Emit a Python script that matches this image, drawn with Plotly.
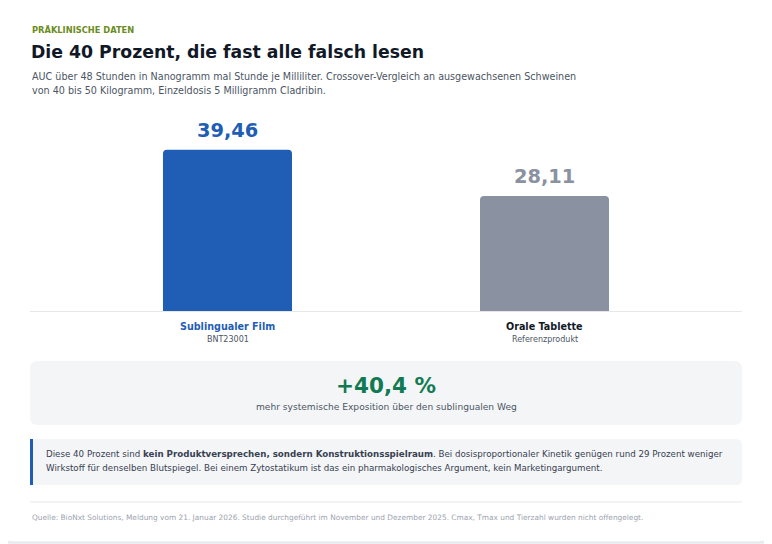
import plotly.graph_objects as go

# the page body keeps an 8px margin, so the figure is laid out in page pixels minus that offset
OFF = 8
W, H = 772 - OFF, 544 - OFF

categories = ["Sublingualer Film", "Orale Tablette"]
subtitles = ["BNT23001", "Referenzprodukt"]
auc_values = [39.46, 28.11]
bar_colors = ["#1f5eb4", "#8a91a0"]
label_colors = ["#1f5eb4", "#111827"]
delta_label = "+40,4 %"


def px(x):
    return (x - OFF) / W


def py(y):
    return 1 - (y - OFF) / H


def rounded_box(x0, y0, x1, y1, r, fill, line=None):
    # rounded rectangle in page pixels (top-left origin), drawn in paper space
    rx, ry = r / W, r / H
    a, b, c, d = px(x0), px(x1), py(y0), py(y1)
    path = (
        f"M {a + rx},{c} L {b - rx},{c} Q {b},{c} {b},{c - ry} "
        f"L {b},{d + ry} Q {b},{d} {b - rx},{d} "
        f"L {a + rx},{d} Q {a},{d} {a},{d + ry} "
        f"L {a},{c - ry} Q {a},{c} {a + rx},{c} Z"
    )
    return dict(
        type="path", xref="paper", yref="paper", path=path,
        fillcolor=fill, line=dict(color=line or fill, width=1 if line else 0),
        layer="below",
    )


def text_at(text, x, y, size, color, xanchor="left"):
    return dict(
        text=text, x=px(x), y=py(y), xanchor=xanchor, yanchor="middle",
        font=dict(size=size, color=color),
    )


fig = go.Figure()

fig.add_trace(
    go.Bar(
        x=categories,
        y=auc_values,
        width=0.407,
        marker=dict(color=bar_colors, cornerradius=4, line=dict(width=0)),
        hoverinfo="skip",
        showlegend=False,
    )
)

annotations = [
    text_at("<b>PRÄKLINISCHE DATEN</b>", 30, 30, 8.3, "#6b8c22"),
    text_at("<b>Die 40 Prozent, die fast alle falsch lesen</b>", 29, 52, 17.3, "#111827"),
    text_at("AUC über 48 Stunden in Nanogramm mal Stunde je Milliliter. "
            "Crossover-Vergleich an ausgewachsenen Schweinen", 30, 76, 9.6, "#4b5563"),
    text_at("von 40 bis 50 Kilogramm, Einzeldosis 5 Milligramm Cladribin.", 30, 91, 9.6, "#4b5563"),
]

# value labels and category labels
for cat, sub, val, bc, lc in zip(categories, subtitles, auc_values, bar_colors, label_colors):
    annotations.append(dict(
        text=f"<b>{val:.2f}</b>".replace(".", ","), x=cat, y=val, xref="x", yref="y",
        yanchor="bottom", yshift=6, showarrow=False, font=dict(size=19.4, color=bc),
    ))
    annotations.append(dict(
        text=f"<b>{cat}</b>", x=cat, y=py(326), xref="x", yref="paper",
        yanchor="middle", showarrow=False, font=dict(size=9.6, color=lc),
    ))
    annotations.append(dict(
        text=sub, x=cat, y=py(339), xref="x", yref="paper",
        yanchor="middle", showarrow=False, font=dict(size=8, color="#4b5563"),
    ))

# highlight box
annotations.append(text_at(f"<b>{delta_label}</b>", 386, 385, 21.5, "#127a52", "center"))
annotations.append(text_at("mehr systemische Exposition über den sublingualen Weg",
                           386, 407, 9.1, "#4b5563", "center"))

# note box
annotations.append(text_at(
    "Diese 40 Prozent sind <b>kein Produktversprechen, sondern Konstruktionsspielraum</b>. "
    "Bei dosisproportionaler Kinetik genügen rund 29 Prozent weniger",
    44, 454, 8.7, "#374151"))
annotations.append(text_at(
    "Wirkstoff für denselben Blutspiegel. Bei einem Zytostatikum ist das ein "
    "pharmakologisches Argument, kein Marketingargument.",
    44, 468, 8.7, "#374151"))

# source
annotations.append(text_at(
    "Quelle: BioNxt Solutions, Meldung vom 21. Januar 2026. Studie durchgeführt im November und "
    "Dezember 2025. Cmax, Tmax und Tierzahl wurden nicht offengelegt.",
    30, 517, 7.4, "#9ca3af"))

for a in annotations:
    a.setdefault("xref", "paper")
    a.setdefault("yref", "paper")
    a.setdefault("showarrow", False)

shapes = [
    rounded_box(1, 1, 770, 542, 12, "#ffffff", line="#e2e5e9"),
    rounded_box(30, 361, 742, 425, 8, "#f4f5f7"),
    rounded_box(30, 439, 742, 485, 6, "#f4f5f7"),
    dict(type="rect", xref="paper", yref="paper", x0=px(30), x1=px(33), y0=py(439), y1=py(485),
         fillcolor="#1f5eb4", line=dict(width=0), layer="below"),
    dict(type="line", xref="paper", yref="paper", x0=px(30), x1=px(742), y0=py(502), y1=py(502),
         line=dict(color="#e5e7eb", width=1), layer="below"),
]

fig.update_layout(
    width=W,
    height=H,
    margin=dict(l=0, r=0, t=0, b=0),
    paper_bgcolor="#eceef1",
    plot_bgcolor="rgba(0,0,0,0)",
    font=dict(family="DejaVu Sans"),
    xaxis=dict(
        domain=[px(30), px(742)], range=[-0.623, 1.623], showticklabels=False,
        showgrid=False, zeroline=False, showline=True, linecolor="#e5e7eb", linewidth=1,
        fixedrange=True,
    ),
    yaxis=dict(
        domain=[py(311), py(127)], range=[0, 45], visible=False, fixedrange=True,
    ),
    shapes=shapes,
    annotations=annotations,
)

fig.write_html("out.html")
